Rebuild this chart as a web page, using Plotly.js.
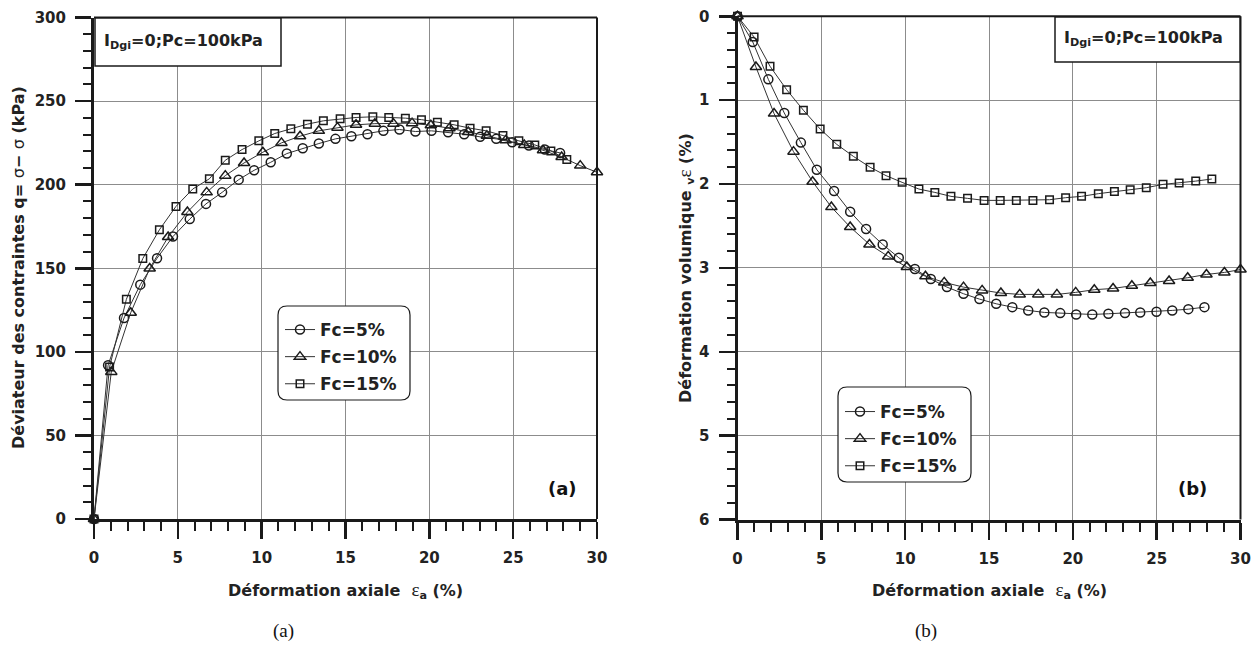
<!DOCTYPE html>
<html><head><meta charset="utf-8">
<script src="https://cdn.plot.ly/plotly-3.0.1.min.js"></script>
<style>html,body{margin:0;padding:0;background:#fff}#chart{width:1258px;height:653px}</style>
</head><body><div id="chart"></div>
<script>
// ---------- data ----------
const seriesNames = ['Fc=5%', 'Fc=10%', 'Fc=15%'];

// (a) deviator stress q (kPa) vs axial strain (%)
const a5_x = [0, 0.84, 1.79, 2.76, 3.76, 4.71, 5.71, 6.68, 7.64, 8.63, 9.55, 10.54, 11.5, 12.45, 13.41, 14.4, 15.35, 16.31, 17.26, 18.22, 19.17, 20.13, 21.12, 22.08, 23.03, 23.99, 24.94, 25.94, 26.89, 27.8];
const a5_y = [0, 92, 120.2, 140.2, 156, 169, 179.4, 188.5, 195.4, 203, 208.6, 213.4, 218.6, 221.8, 224.6, 227.4, 229, 230.2, 232.2, 233, 231.8, 232.2, 231.4, 230.2, 228.6, 227.4, 225.4, 223.4, 221, 219];
const a10_x = [0, 1.03, 2.19, 3.32, 4.42, 5.57, 6.72, 7.83, 8.95, 10.07, 11.18, 12.29, 13.41, 14.52, 15.63, 16.75, 17.86, 18.97, 20.09, 21.2, 22.32, 23.43, 24.55, 25.66, 26.78, 27.89, 29.0, 30.0];
const a10_y = [0, 88, 123.4, 149.8, 168.7, 183.6, 195.4, 205.4, 213, 219.4, 225, 229, 232.2, 234.1, 235.8, 236.5, 236.5, 236.8, 235.5, 233.8, 231.5, 229.3, 226.5, 223.8, 220.6, 216.5, 211.4, 207.4];
const a15_x = [0, 0.93, 1.93, 2.91, 3.9, 4.89, 5.89, 6.88, 7.83, 8.83, 9.83, 10.78, 11.74, 12.73, 13.68, 14.68, 15.63, 16.63, 17.58, 18.57, 19.53, 20.48, 21.48, 22.43, 23.39, 24.39, 25.34, 26.29, 27.25, 28.2];
const a15_y = [0, 91, 131.4, 155.8, 173, 187, 197.4, 203.5, 214.6, 221, 226.2, 230.6, 233.4, 236.2, 238.2, 239.4, 240.2, 240.6, 240.2, 239.8, 238.9, 237.4, 235.8, 233.8, 232.2, 229.4, 226.2, 223.8, 220.2, 215];

// (b) volumetric strain (%) vs axial strain (%)
const b5_x = [0, 0.91, 1.84, 2.79, 3.78, 4.73, 5.76, 6.72, 7.67, 8.66, 9.62, 10.58, 11.53, 12.49, 13.48, 14.43, 15.43, 16.39, 17.34, 18.3, 19.25, 20.2, 21.16, 22.12, 23.11, 24.02, 24.99, 25.93, 26.89, 27.85];
const b5_y = [0, 0.306, 0.752, 1.153, 1.506, 1.829, 2.084, 2.33, 2.537, 2.72, 2.879, 3.014, 3.133, 3.229, 3.308, 3.372, 3.428, 3.468, 3.507, 3.531, 3.539, 3.555, 3.555, 3.547, 3.539, 3.531, 3.523, 3.507, 3.492, 3.468];
const b10_x = [0, 1.1, 2.18, 3.34, 4.48, 5.6, 6.72, 7.87, 8.99, 10.1, 11.21, 12.33, 13.48, 14.59, 15.71, 16.83, 17.94, 19.05, 20.17, 21.28, 22.4, 23.52, 24.62, 25.74, 26.85, 27.97, 29.04, 30.0];
const b10_y = [0, 0.605, 1.16, 1.614, 1.972, 2.275, 2.513, 2.72, 2.863, 2.99, 3.10, 3.173, 3.229, 3.268, 3.30, 3.316, 3.316, 3.316, 3.292, 3.26, 3.245, 3.213, 3.181, 3.157, 3.117, 3.078, 3.054, 3.02];
const b15_x = [0, 0.99, 1.94, 2.93, 3.93, 4.93, 5.92, 6.91, 7.91, 8.86, 9.82, 10.82, 11.77, 12.73, 13.72, 14.71, 15.67, 16.63, 17.62, 18.61, 19.57, 20.52, 21.52, 22.48, 23.42, 24.38, 25.38, 26.34, 27.33, 28.29];
const b15_y = [0, 0.247, 0.596, 0.875, 1.12, 1.344, 1.527, 1.67, 1.80, 1.90, 1.98, 2.06, 2.10, 2.147, 2.171, 2.195, 2.195, 2.195, 2.195, 2.187, 2.163, 2.147, 2.115, 2.09, 2.067, 2.044, 2.004, 1.988, 1.965, 1.94];

const xTicksA = [0, 5, 10, 15, 20, 25, 30];
const yTicksA = [0, 50, 100, 150, 200, 250, 300];
const yTicksB = [0, 1, 2, 3, 4, 5, 6];

// ---------- styling ----------
const W = 1258, H = 653;
const px = v => v / W;
const py = v => 1 - v / H;
const INK = '#1a1a1a';
const symbols = ['circle-open', 'triangle-up-open', 'square-open'];
const msizes = [9, 10, 7.5];
const SANS = 'DejaVu Sans';

function mk(xs, ys, i, xa, ya, leg) {
  return {
    x: xs, y: ys, xaxis: xa, yaxis: ya, type: 'scatter', mode: 'lines+markers',
    name: seriesNames[i], legend: leg, legendgroup: leg + i, cliponaxis: false,
    line: {color: '#333', width: 1},
    marker: {symbol: symbols[i], size: msizes[i], color: INK, line: {width: 1.5, color: INK}}
  };
}

const data = [
  mk(a5_x, a5_y, 0, 'x', 'y', 'legend'),
  mk(a10_x, a10_y, 1, 'x', 'y', 'legend'),
  mk(a15_x, a15_y, 2, 'x', 'y', 'legend'),
  mk(b5_x, b5_y, 0, 'x2', 'y2', 'legend2'),
  mk(b10_x, b10_y, 1, 'x2', 'y2', 'legend2'),
  mk(b15_x, b15_y, 2, 'x2', 'y2', 'legend2')
];

const tickFont = {family: SANS, size: 15, color: '#222', weight: 'bold'};
function xAxis(domain, anchor) {
  return {
    domain: domain, anchor: anchor, range: [0, 30], tickmode: 'array', tickvals: xTicksA,
    ticks: 'outside', ticklen: 17, tickwidth: 2.5, tickcolor: INK,
    showline: true, linewidth: 3, linecolor: INK, showgrid: true, gridcolor: '#8c8c8c', gridwidth: 1,
    zeroline: false, tickfont: tickFont, ticklabelstandoff: 6, automargin: false, fixedrange: true,
    minor: {dtick: 1, tick0: 0, ticks: 'outside', ticklen: 9, tickwidth: 2, tickcolor: INK, showgrid: false}
  };
}
function yAxis(domain, anchor, range, tv, mdt) {
  return {
    domain: domain, anchor: anchor, range: range, tickmode: 'array', tickvals: tv,
    ticks: 'outside', ticklen: 16, tickwidth: 2.5, tickcolor: INK,
    showline: true, linewidth: 3, linecolor: INK, showgrid: true, gridcolor: '#8c8c8c', gridwidth: 1,
    zeroline: false, tickfont: tickFont, ticklabelstandoff: 6, automargin: false, fixedrange: true,
    minor: {dtick: mdt, tick0: 0, ticks: 'outside', ticklen: 8, tickwidth: 2, tickcolor: INK, showgrid: false}
  };
}

function roundRect(x0, y0, x1, y1, r) {
  const X = v => px(v).toFixed(5), Y = v => py(v).toFixed(5);
  return 'M' + X(x0 + r) + ',' + Y(y0) + ' L' + X(x1 - r) + ',' + Y(y0) +
    ' Q' + X(x1) + ',' + Y(y0) + ' ' + X(x1) + ',' + Y(y0 + r) +
    ' L' + X(x1) + ',' + Y(y1 - r) + ' Q' + X(x1) + ',' + Y(y1) + ' ' + X(x1 - r) + ',' + Y(y1) +
    ' L' + X(x0 + r) + ',' + Y(y1) + ' Q' + X(x0) + ',' + Y(y1) + ' ' + X(x0) + ',' + Y(y1 - r) +
    ' L' + X(x0) + ',' + Y(y0 + r) + ' Q' + X(x0) + ',' + Y(y0) + ' ' + X(x0 + r) + ',' + Y(y0) + ' Z';
}

const border = (xr, yr, x0, y0, x1, y1) => ({type: 'line', xref: xr + ' domain', yref: yr + ' domain',
  x0: x0, y0: y0, x1: x1, y1: y1, line: {color: INK, width: 2}});

const shapes = [
  border('x', 'y', 0, 1, 1, 1), border('x', 'y', 1, 0, 1, 1),
  border('x2', 'y2', 0, 1, 1, 1), border('x2', 'y2', 1, 0, 1, 1),
  {type: 'rect', xref: 'paper', yref: 'paper', x0: px(95), x1: px(281), y0: py(66), y1: py(18),
   fillcolor: '#fff', line: {color: INK, width: 1.5}},
  {type: 'rect', xref: 'paper', yref: 'paper', x0: px(1055), x1: px(1240), y0: py(62), y1: py(17),
   fillcolor: '#fff', line: {color: INK, width: 1.5}},
  {type: 'path', xref: 'paper', yref: 'paper', path: roundRect(278, 306, 410, 400, 9),
   fillcolor: '#fff', line: {color: INK, width: 1.2}},
  {type: 'path', xref: 'paper', yref: 'paper', path: roundRect(838, 387, 971, 482, 9),
   fillcolor: '#fff', line: {color: INK, width: 1.2}}
];

const EPS = "<span style='font-family:Liberation Serif;font-weight:normal;font-size:19px'>ε</span>";
const ann = (x, y, text, opts) => Object.assign({xref: 'paper', yref: 'paper', x: px(x), y: py(y),
  text: text, showarrow: false, font: {family: SANS, size: 16, color: '#222', weight: 'bold'}}, opts || {});

const annotations = [
  ann(102, 42, 'I<sub>Dgi</sub>=0;Pc=100kPa', {xanchor: 'left', yanchor: 'middle'}),
  ann(1062, 39, 'I<sub>Dgi</sub>=0;Pc=100kPa', {xanchor: 'left', yanchor: 'middle'}),
  ann(345, 590, 'Déformation axiale  ' + EPS + '<sub>a</sub> (%)', {xanchor: 'center', yanchor: 'middle'}),
  ann(989, 590, 'Déformation axiale  ' + EPS + '<sub>a</sub> (%)', {xanchor: 'center', yanchor: 'middle'}),
  ann(18, 268, 'Déviateur des contraintes q= ' + "<span style='font-weight:normal'>σ</span>" + '− ' + "<span style='font-weight:normal'>σ</span>" + ' (kPa)',
      {xanchor: 'center', yanchor: 'middle', textangle: -90}),
  ann(685, 268, 'Déformation volumique ' + '<sub>v</sub>' + EPS + ' (%)',
      {xanchor: 'center', yanchor: 'middle', textangle: -90}),
  ann(562, 488, '(a)', {xanchor: 'center', yanchor: 'middle', font: {family: SANS, size: 18, color: '#111', weight: 'bold'}}),
  ann(1192, 488, '(b)', {xanchor: 'center', yanchor: 'middle', font: {family: SANS, size: 18, color: '#111', weight: 'bold'}}),
  ann(283, 631, '(a)', {xanchor: 'center', yanchor: 'middle', font: {family: 'Liberation Serif', size: 19, color: '#111'}}),
  ann(926, 631, '(b)', {xanchor: 'center', yanchor: 'middle', font: {family: 'Liberation Serif', size: 19, color: '#111'}})
];

const legFont = {family: SANS, size: 17, color: '#222', weight: 'bold'};
const layout = {
  width: W, height: H, margin: {l: 0, r: 0, t: 0, b: 0},
  paper_bgcolor: '#fff', plot_bgcolor: '#fff',
  font: {family: SANS, color: '#222'},
  showlegend: true,
  xaxis: xAxis([px(94), px(597)], 'y'),
  yaxis: yAxis([py(519), py(17.5)], 'x', [0, 300], yTicksA, 10),
  xaxis2: xAxis([px(737.5), px(1240.5)], 'y2'),
  yaxis2: yAxis([py(519.5), py(16.3)], 'x2', [6, 0], yTicksB, 0.2),
  legend: {x: px(280), y: py(312), xanchor: 'left', yanchor: 'top', bgcolor: 'rgba(0,0,0,0)', borderwidth: 0,
    font: legFont, tracegroupgap: 2, itemwidth: 30},
  legend2: {x: px(840), y: py(394), xanchor: 'left', yanchor: 'top', bgcolor: 'rgba(0,0,0,0)', borderwidth: 0,
    font: legFont, tracegroupgap: 2, itemwidth: 30},
  shapes: shapes,
  annotations: annotations
};

Plotly.newPlot('chart', data, layout, {staticPlot: true, displayModeBar: false});
</script>
</body></html>
